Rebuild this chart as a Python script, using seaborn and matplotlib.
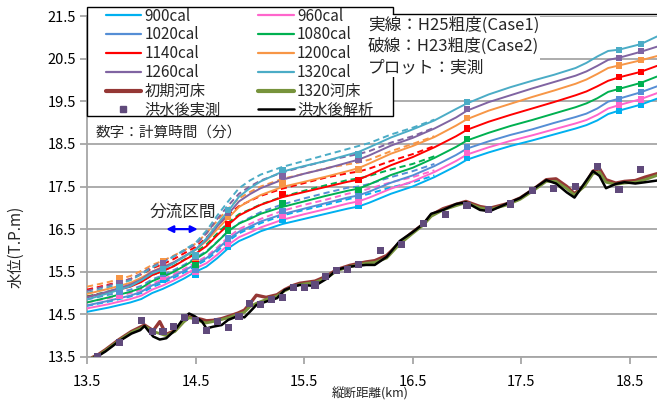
import numpy as np
import pandas as pd
import seaborn as sns
import matplotlib.pyplot as plt
from matplotlib.lines import Line2D
from matplotlib.patches import Rectangle

# ---- data -------------------------------------------------------------
# water-level profiles, Case1 (solid) : distance (km) -> level (T.P.m)
km_wl = [13.5, 13.7, 13.9, 14.0, 14.1, 14.2, 14.3, 14.4, 14.5, 14.6, 14.7, 14.8,
         14.9, 15.0, 15.1, 15.3, 15.5, 15.7, 15.9, 16.0, 16.1, 16.3, 16.5, 16.7,
         16.9, 17.0, 17.2, 17.4, 17.6, 17.8, 18.0, 18.1, 18.2, 18.3, 18.4, 18.6, 18.75]

wl_900 = [14.56, 14.66, 14.78, 14.86, 15.00, 15.10, 15.22, 15.35, 15.50, 15.62, 15.82, 16.05,
          16.22, 16.33, 16.45, 16.62, 16.74, 16.86, 16.98, 17.03, 17.12, 17.33, 17.50, 17.72,
          17.98, 18.13, 18.30, 18.45, 18.58, 18.72, 18.86, 18.94, 19.05, 19.20, 19.28, 19.42, 19.56]
wl_960 = [14.64, 14.74, 14.86, 14.94, 15.08, 15.18, 15.30, 15.43, 15.58, 15.70, 15.90, 16.13,
          16.31, 16.42, 16.54, 16.72, 16.85, 16.97, 17.10, 17.15, 17.24, 17.45, 17.62, 17.84,
          18.10, 18.25, 18.42, 18.57, 18.70, 18.84, 18.98, 19.06, 19.18, 19.33, 19.41, 19.55, 19.69]
wl_1020 = [14.71, 14.82, 14.94, 15.03, 15.18, 15.28, 15.40, 15.53, 15.68, 15.82, 16.03, 16.26,
           16.44, 16.56, 16.68, 16.85, 16.98, 17.11, 17.24, 17.29, 17.38, 17.59, 17.76, 17.98,
           18.24, 18.39, 18.56, 18.71, 18.84, 18.99, 19.13, 19.21, 19.33, 19.49, 19.56, 19.71, 19.85]
wl_1080 = [14.78, 14.90, 15.03, 15.12, 15.28, 15.38, 15.50, 15.64, 15.80, 15.96, 16.20, 16.45,
           16.63, 16.74, 16.86, 17.02, 17.15, 17.28, 17.40, 17.45, 17.55, 17.77, 17.94, 18.17,
           18.43, 18.58, 18.76, 18.92, 19.06, 19.21, 19.36, 19.45, 19.57, 19.72, 19.79, 19.93, 20.08]
wl_1140 = [14.91, 15.02, 15.15, 15.26, 15.42, 15.52, 15.63, 15.78, 15.92, 16.10, 16.36, 16.60,
           16.82, 16.95, 17.07, 17.25, 17.37, 17.49, 17.61, 17.66, 17.77, 18.00, 18.19, 18.42,
           18.68, 18.83, 19.02, 19.18, 19.33, 19.48, 19.64, 19.73, 19.85, 19.98, 20.06, 20.19, 20.33]
wl_1200 = [14.98, 15.10, 15.24, 15.36, 15.50, 15.62, 15.72, 15.86, 16.02, 16.22, 16.50, 16.76,
           17.02, 17.17, 17.30, 17.49, 17.61, 17.73, 17.86, 17.93, 18.04, 18.27, 18.45, 18.66,
           18.93, 19.08, 19.28, 19.44, 19.60, 19.75, 19.91, 20.01, 20.14, 20.28, 20.34, 20.46, 20.56]
wl_1260 = [14.90, 15.04, 15.20, 15.32, 15.50, 15.60, 15.72, 15.87, 16.02, 16.25, 16.57, 16.85,
           17.15, 17.32, 17.46, 17.66, 17.80, 17.92, 18.06, 18.13, 18.23, 18.46, 18.64, 18.86,
           19.12, 19.28, 19.48, 19.64, 19.80, 19.95, 20.10, 20.20, 20.33, 20.47, 20.52, 20.66, 20.78]
wl_1320 = [14.85, 15.00, 15.16, 15.30, 15.46, 15.56, 15.70, 15.86, 16.02, 16.28, 16.62, 16.92,
           17.26, 17.46, 17.62, 17.85, 17.98, 18.10, 18.24, 18.31, 18.42, 18.65, 18.84, 19.05,
           19.32, 19.45, 19.66, 19.83, 19.98, 20.12, 20.28, 20.40, 20.55, 20.68, 20.71, 20.84, 21.02]

# water-level profiles, Case2 (dashed), upstream part where it departs from Case1
km_c2 = [13.5, 13.7, 13.9, 14.0, 14.1, 14.2, 14.3, 14.4, 14.5, 14.6, 14.7, 14.8,
         14.9, 15.0, 15.1, 15.3, 15.5, 15.7, 15.9, 16.0, 16.1, 16.3, 16.5, 16.7]
c2_900 = [14.70, 14.80, 14.92, 15.00, 15.14, 15.24, 15.36, 15.49, 15.64, 15.78, 15.98, 16.22,
          16.40, 16.52, 16.64, 16.82, 16.95, 17.07, 17.20, 17.26, 17.33, 17.48, 17.60, 17.76]
c2_960 = [14.78, 14.88, 15.00, 15.08, 15.22, 15.32, 15.44, 15.57, 15.72, 15.86, 16.07, 16.31,
          16.50, 16.62, 16.74, 16.93, 17.07, 17.19, 17.33, 17.38, 17.45, 17.60, 17.72, 17.88]
c2_1020 = [14.85, 14.96, 15.08, 15.17, 15.32, 15.42, 15.54, 15.67, 15.83, 15.98, 16.21, 16.45,
           16.64, 16.77, 16.90, 17.08, 17.22, 17.35, 17.47, 17.50, 17.56, 17.72, 17.86, 18.03]
c2_1080 = [14.92, 15.04, 15.17, 15.27, 15.42, 15.52, 15.64, 15.79, 15.96, 16.14, 16.40, 16.65,
           16.85, 16.96, 17.08, 17.26, 17.40, 17.53, 17.65, 17.69, 17.75, 17.90, 18.03, 18.21]
c2_1140 = [15.08, 15.20, 15.33, 15.44, 15.58, 15.68, 15.80, 15.94, 16.08, 16.30, 16.58, 16.84,
           17.04, 17.16, 17.28, 17.45, 17.58, 17.71, 17.81, 17.85, 17.92, 18.10, 18.26, 18.45]
c2_1200 = [15.15, 15.26, 15.40, 15.52, 15.66, 15.76, 15.88, 16.01, 16.16, 16.40, 16.70, 16.98,
           17.22, 17.37, 17.50, 17.68, 17.80, 17.93, 18.02, 18.06, 18.13, 18.33, 18.50, 18.68]
c2_1260 = [15.05, 15.18, 15.33, 15.46, 15.62, 15.74, 15.86, 16.00, 16.14, 16.40, 16.74, 17.05,
           17.33, 17.50, 17.64, 17.83, 17.97, 18.10, 18.21, 18.26, 18.33, 18.53, 18.68, 18.88]
c2_1320 = [15.00, 15.14, 15.30, 15.44, 15.60, 15.72, 15.86, 16.02, 16.18, 16.46, 16.82, 17.15,
           17.46, 17.64, 17.78, 17.96, 18.10, 18.24, 18.38, 18.45, 18.52, 18.72, 18.88, 19.07]

# observed water levels (squares), one column per gauge section
obs_km = [13.8, 14.2, 14.5, 14.8, 15.3, 16.0, 17.0, 18.4, 18.6]
obs_900 = [np.nan, 15.32, 15.42, 16.08, 16.71, 17.04, 18.18, 19.28, 19.42]
obs_960 = [14.94, 15.38, 15.49, 16.16, 16.81, 17.13, 18.29, 19.41, 19.54]
obs_1020 = [15.03, 15.45, 15.55, 16.28, 16.93, 17.27, 18.43, 19.56, 19.72]
obs_1080 = [np.nan, 15.50, 15.66, 16.47, 17.10, 17.42, 18.61, 19.79, 19.91]
obs_1140 = [np.nan, 15.72, 15.80, 16.62, 17.33, 17.65, 18.86, 20.06, 20.19]
obs_1200 = [15.34, 15.75, 15.82, 16.78, 17.57, 17.90, 19.11, 20.34, 20.46]
obs_1260 = [15.23, 15.70, 15.85, 16.87, 17.75, 18.12, 19.32, 20.52, 20.67]
obs_1320 = [15.15, 15.57, 15.88, 16.95, 17.88, 18.25, 19.49, 20.71, 20.84]

# riverbed profiles
km_bed = [13.55, 13.6, 13.67, 13.79, 13.91, 13.99, 14.03, 14.06, 14.11, 14.17, 14.23, 14.31,
          14.39, 14.44, 14.49, 14.56, 14.6, 14.66, 14.74, 14.8, 14.89, 14.95, 15.0, 15.06,
          15.15, 15.25, 15.32, 15.4, 15.46, 15.6, 15.71, 15.8, 15.92, 16.07, 16.15, 16.26,
          16.38, 16.5, 16.6, 16.67, 16.78, 16.9, 16.99, 17.12, 17.21, 17.36, 17.49, 17.61,
          17.73, 17.82, 17.92, 17.99, 18.08, 18.16, 18.22, 18.28, 18.37, 18.45, 18.55, 18.64, 18.75]
bed_after_calc = [13.47, 13.52, 13.63, 13.86, 14.05, 14.13, 14.23, 14.13, 13.98, 13.91, 13.94, 14.13,
                  14.41, 14.52, 14.46, 14.33, 14.17, 14.21, 14.25, 14.37, 14.46, 14.43, 14.56, 14.72,
                  14.80, 14.88, 15.07, 15.15, 15.19, 15.17, 15.34, 15.55, 15.62, 15.66, 15.66, 15.85,
                  16.22, 16.43, 16.63, 16.86, 16.95, 17.09, 17.13, 16.95, 16.92, 17.09, 17.23, 17.44,
                  17.65, 17.57, 17.36, 17.24, 17.57, 17.86, 17.75, 17.46, 17.56, 17.60, 17.57, 17.60, 17.64]
bed_1320 = [13.48, 13.53, 13.65, 13.88, 14.08, 14.17, 14.22, 14.18, 14.10, 14.05, 14.00, 14.10,
            14.32, 14.42, 14.40, 14.32, 14.30, 14.33, 14.38, 14.42, 14.50, 14.55, 14.68, 14.76,
            14.85, 14.93, 15.05, 15.15, 15.20, 15.25, 15.36, 15.52, 15.62, 15.70, 15.72, 15.82,
            16.15, 16.40, 16.60, 16.80, 16.95, 17.05, 17.12, 17.00, 16.96, 17.06, 17.20, 17.40,
            17.62, 17.62, 17.45, 17.30, 17.50, 17.80, 17.84, 17.60, 17.55, 17.58, 17.60, 17.66, 17.76]
bed_initial = [13.49, 13.55, 13.67, 13.90, 14.10, 14.20, 14.25, 14.20, 14.12, 14.33, 14.03, 14.12,
               14.34, 14.44, 14.42, 14.38, 14.35, 14.36, 14.40, 14.45, 14.53, 14.60, 14.75, 14.95,
               14.90, 14.96, 15.08, 15.18, 15.23, 15.28, 15.40, 15.55, 15.65, 15.73, 15.76, 15.88,
               16.18, 16.43, 16.62, 16.83, 16.98, 17.08, 17.15, 17.03, 16.99, 17.09, 17.23, 17.43,
               17.66, 17.68, 17.50, 17.33, 17.52, 17.86, 17.92, 17.66, 17.58, 17.62, 17.64, 17.72, 17.80]

# post-flood surveyed riverbed (squares)
svy_km = [13.6, 13.8, 14.0, 14.1, 14.2, 14.3, 14.4, 14.5, 14.6, 14.7, 14.8, 14.9, 15.0, 15.1,
          15.2, 15.3, 15.4, 15.5, 15.6, 15.7, 15.8, 15.9, 16.0, 16.2, 16.4, 16.6, 16.8, 17.0,
          17.2, 17.4, 17.6, 17.8, 18.0, 18.2, 18.4, 18.6]
svy_z = [13.52, 13.84, 14.35, 14.09, 14.09, 14.21, 14.43, 14.35, 14.13, 14.33, 14.19, 14.46,
         14.76, 14.74, 14.84, 14.89, 15.13, 15.13, 15.19, 15.38, 15.52, 15.55, 15.66, 16.00,
         16.14, 16.64, 16.84, 17.05, 16.96, 17.09, 17.40, 17.46, 17.50, 17.96, 17.43, 17.89]

labels = ["900cal", "960cal", "1020cal", "1080cal", "1140cal", "1200cal", "1260cal", "1320cal"]
colors = ["#00B0F0", "#FF66CC", "#558ED5", "#00B050", "#FF0000", "#F79646", "#8064A2", "#4BACC6"]
case1 = [wl_900, wl_960, wl_1020, wl_1080, wl_1140, wl_1200, wl_1260, wl_1320]
case2 = [c2_900, c2_960, c2_1020, c2_1080, c2_1140, c2_1200, c2_1260, c2_1320]
obs = [obs_900, obs_960, obs_1020, obs_1080, obs_1140, obs_1200, obs_1260, obs_1320]

# ---- style ------------------------------------------------------------
sns.set_theme(style="white")
plt.rcParams["font.family"] = ["Noto Sans CJK JP", "DejaVu Sans"]
plt.rcParams["axes.unicode_minus"] = False

W, H = 657, 401
fig = plt.figure(figsize=(W / 100, H / 100), dpi=100)
ax = fig.add_axes([87 / W, 1 - 357 / H, 570 / W, 341 / H])


def fx(px):
    return px / W


def fy(py):
    return 1 - py / H


grid_c = "#A6A6A6"
for y in np.arange(13.5, 21.51, 1.0):
    ax.axhline(y, color=grid_c, lw=1.3, zorder=0)

# riverbed lines
sns.lineplot(x=km_bed, y=bed_initial, ax=ax, color="#953735", lw=2.4, sort=False,
             estimator=None, zorder=3)
sns.lineplot(x=km_bed, y=bed_1320, ax=ax, color="#77933C", lw=2.0, sort=False,
             estimator=None, zorder=4)
sns.lineplot(x=km_bed, y=bed_after_calc, ax=ax, color="black", lw=1.8, sort=False,
             estimator=None, zorder=5)
sns.scatterplot(x=svy_km, y=svy_z, ax=ax, marker="s", s=26, color="#604A7B",
                edgecolor="none", linewidth=0, zorder=6)

# computed water levels
for c2, col in zip(case2, colors):
    sns.lineplot(x=km_c2, y=c2, ax=ax, color=col, lw=1.4, sort=False, estimator=None,
                 linestyle=(0, (3.2, 2.0)), zorder=3)
for c1, col in zip(case1, colors):
    sns.lineplot(x=km_wl, y=c1, ax=ax, color=col, lw=1.4, sort=False, estimator=None, zorder=4)
for o, col in zip(obs, colors):
    sns.scatterplot(x=obs_km, y=o, ax=ax, marker="s", s=20, color=col,
                    edgecolor="none", linewidth=0, zorder=7)

ax.set_xlim(13.5, 18.75)
ax.set_ylim(13.5, 21.5)
xt = np.arange(13.5, 18.6, 1.0)
yt = np.arange(13.5, 21.6, 1.0)
ax.set_xticks(xt)
ax.set_yticks(yt)
ax.set_xticklabels([f"{v:.1f}" for v in xt], fontsize=10.5)
ax.set_yticklabels([f"{v:.1f}" for v in yt], fontsize=10.5)
ax.tick_params(axis="both", direction="out", length=5, width=1.3, color=grid_c,
               labelcolor="black", bottom=True, left=True)
ax.tick_params(axis="x", pad=8)
ax.tick_params(axis="y", pad=3)
for s in ["top", "right"]:
    ax.spines[s].set_visible(False)
for s in ["left", "bottom"]:
    ax.spines[s].set_color(grid_c)
    ax.spines[s].set_linewidth(1.3)
ax.grid(False)

fig.text(fx(370), fy(394), "縦断距離(km)", fontsize=9, ha="center", va="center")
fig.text(fx(16), fy(247), "水位(T.P.m)", fontsize=11, ha="center", va="center", rotation=90)

# legend: frame drawn as a box, entries as a frameless two-column legend
ax.add_patch(Rectangle((fx(87), fy(116)), fx(393) - fx(87), fy(7) - fy(116),
                       transform=fig.transFigure, facecolor="white", edgecolor="black",
                       lw=1.0, clip_on=False, zorder=8))
h = {lab: Line2D([], [], color=col, lw=1.6) for lab, col in zip(labels, colors)}
h_init = Line2D([], [], color="#953735", lw=3)
h_1320 = Line2D([], [], color="#77933C", lw=3)
h_svy = Line2D([], [], color="#604A7B", marker="s", ls="none", ms=5)
h_calc = Line2D([], [], color="black", lw=1.8)
handles = [h["900cal"], h["1020cal"], h["1140cal"], h["1260cal"], h_init, h_svy,
           h["960cal"], h["1080cal"], h["1200cal"], h["1320cal"], h_1320, h_calc]
names = ["900cal", "1020cal", "1140cal", "1260cal", "初期河床", "洪水後実測",
         "960cal", "1080cal", "1200cal", "1320cal", "1320河床", "洪水後解析"]
leg = ax.legend(handles, names, ncol=2, loc="upper left",
                bbox_to_anchor=(fx(104), fy(6)), bbox_transform=fig.transFigure,
                borderaxespad=0, borderpad=0.1, fontsize=11, handlelength=2.35,
                handletextpad=0.2, labelspacing=0.12, frameon=False, columnspacing=2.45)
leg.set_zorder(9)

# note box at top right
ax.add_patch(Rectangle((fx(365), fy(77)), fx(540) - fx(365), fy(15) - fy(77),
                       transform=fig.transFigure, facecolor="white", edgecolor="none",
                       clip_on=False, zorder=10))
ax.add_line(Line2D([fx(393), fx(657)], [fy(14), fy(14)], transform=fig.transFigure,
                   color="black", lw=1.0, clip_on=False, zorder=11))
for py, txt in [(25, "実線：H25粗度(Case1)"), (46.5, "破線：H23粗度(Case2)"), (68, "プロット：実測")]:
    fig.text(fx(368), fy(py), txt, fontsize=12, va="center", ha="left", zorder=12)

ax.text(fx(95), fy(133), "数字：計算時間（分）", transform=fig.transFigure,
        fontsize=10.5, va="center", ha="left",
        bbox=dict(facecolor="white", edgecolor="none", pad=2), zorder=9)
ax.text(14.38, 16.9, "分流区間", fontsize=12, ha="center", va="center", zorder=9)
ax.annotate("", xy=(14.23, 16.5), xytext=(14.52, 16.5),
            arrowprops=dict(arrowstyle="<|-|>", color="#0000FF", lw=1.6,
                            mutation_scale=10, shrinkA=0, shrinkB=0), zorder=9)

fig.savefig("out.png", dpi=100)
